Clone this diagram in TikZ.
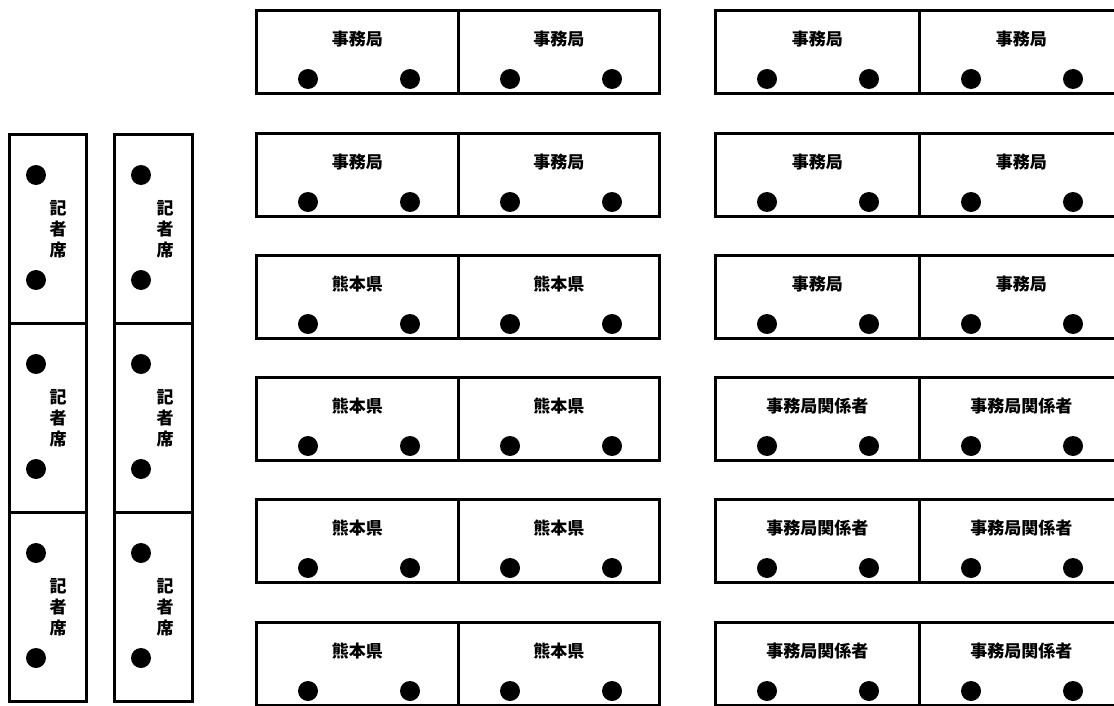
\documentclass[tikz,border=0pt]{standalone}
\usepackage{fontspec}
\newfontfamily\cjk{Noto Sans CJK JP}
\usetikzlibrary{calc}
\tikzset{
  frame/.style={draw=black, line width=2.8pt, inner sep=0pt, anchor=north west},
  tablehalf/.style={frame, minimum width=#1, minimum height=83pt},
  seghalf/.style={frame, minimum width=#1, minimum height=189pt},
  seat/.style={circle, fill=black, minimum size=20pt, inner sep=0pt},
  lab/.style={font=\cjk\bfseries\fontsize{17}{21}\selectfont, inner sep=0pt},
  vlab/.style={font=\cjk\bfseries\fontsize{17}{21}\selectfont, inner sep=0pt, align=center}
}
\begin{document}
\begin{tikzpicture}[x=1pt, y=-1pt]
\useasboundingbox (0,0) rectangle (1114,706);
\clip (0,0) rectangle (1114,706);
% press seats (left columns)
\foreach \c/\cx/\w/\tx in {1/8/77/50, 2/113/78/52} {
  \foreach \s/\sy in {1/133, 2/322, 3/511} {
    \node[seghalf=\w pt] (P\c\s) at (\cx,\sy) {};
    \node[seat] (P\c\s d1) at ($(P\c\s.north west)+(28,42)$) {};
    \node[seat] (P\c\s d2) at ($(P\c\s.north west)+(28,147)$) {};
    \node[vlab] (P\c\s t) at ($(P\c\s.west)+(\tx,0)$) {記\\者\\席};
  }
}
% left tables
\foreach \r/\ty/\lab in {1/9/事務局, 2/132/事務局, 3/254/熊本県, 4/376/熊本県, 5/498/熊本県, 6/621/熊本県} {
  \node[tablehalf=202pt] (L\r a) at (255,\ty) {};
  \node[tablehalf=201pt] (L\r b) at (457,\ty) {};
  \foreach \h in {a,b} {
    \node[lab] (L\r\h t) at ($(L\r\h.north)+(0,30)$) {\lab};
    \node[seat] (L\r\h d1) at ($(L\r\h.north west)+(53,70)$) {};
    \node[seat] (L\r\h d2) at ($(L\r\h.north west)+(155,70)$) {};
  }
}
% right tables
\foreach \r/\ty/\lab in {1/9/事務局, 2/132/事務局, 3/254/事務局, 4/376/事務局関係者, 5/498/事務局関係者, 6/621/事務局関係者} {
  \node[tablehalf=204pt] (R\r a) at (714,\ty) {};
  \node[tablehalf=204pt] (R\r b) at (918,\ty) {};
  \foreach \h in {a,b} {
    \node[lab] (R\r\h t) at ($(R\r\h.north)+(0,30)$) {\lab};
    \node[seat] (R\r\h d1) at ($(R\r\h.north west)+(53,70)$) {};
    \node[seat] (R\r\h d2) at ($(R\r\h.north west)+(155,70)$) {};
  }
}
\end{tikzpicture}
\end{document}
